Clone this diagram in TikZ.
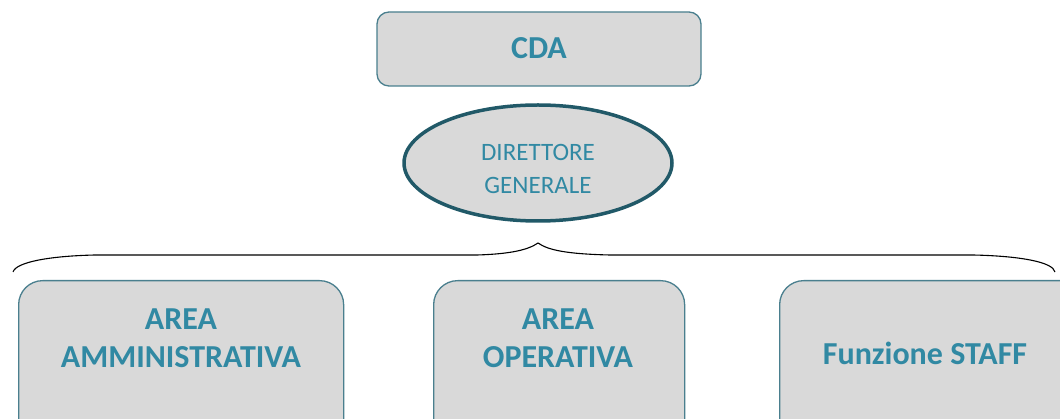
\documentclass[tikz,border=0pt]{standalone}
\usepackage{fontspec}
\setmainfont{Carlito}
\usetikzlibrary{shapes.geometric}
\definecolor{boxfill}{HTML}{D9D9D9}
\definecolor{boxline}{HTML}{4A7F8E}
\definecolor{ellline}{HTML}{215968}
\definecolor{txt}{HTML}{3189A3}
\tikzset{
  box/.style={draw=boxline, line width=1.3pt, fill=boxfill, rounded corners=24pt, inner sep=0pt},
  topbox/.style={draw=boxline, line width=1.3pt, fill=boxfill, rounded corners=12pt, inner sep=0pt},
  lbl/.style={text=txt, font=\fontsize{32}{38}\selectfont\bfseries, align=center, inner sep=0pt},
  ell/.style={ellipse, draw=ellline, line width=3.5pt, fill=boxfill, inner sep=0pt},
  elbl/.style={text=txt, font=\fontsize{25}{33}\selectfont, align=center, inner sep=0pt},
  brace/.style={draw=black, line width=1.1pt}
}
\begin{document}
\begin{tikzpicture}[x=1pt,y=-1pt]
\useasboundingbox (0,0) rectangle (1060,419);
\clip (0,0) rectangle (1060,419);
\node[topbox, minimum width=324pt, minimum height=74pt] (cda) at (539,49) {};
\node[lbl] (cdat) at (539,48) {CDA};
\node[ell, minimum width=268pt, minimum height=116pt] (dg) at (538,163) {};
\node[elbl] (dgt) at (538,169) {DIRETTORE\\GENERALE};
\draw[brace] (13,272) .. controls (16,262) and (50,256) .. (95,255) -- (477,255)
  .. controls (510,254) and (528,250) .. (538,243)
  .. controls (548,250) and (566,254) .. (610,255) -- (973,255)
  .. controls (1020,256) and (1053,262) .. (1055,272);
\node[box, minimum width=325pt, minimum height=180pt, anchor=north west] (a1) at (18,280) {};
\node[lbl] (a1t) at (181,338) {AREA\\AMMINISTRATIVA};
\node[box, minimum width=251pt, minimum height=180pt, anchor=north west] (a2) at (433,280) {};
\node[lbl] (a2t) at (558,338) {AREA\\OPERATIVA};
\node[box, minimum width=320pt, minimum height=180pt, anchor=north west] (a3) at (779,280) {};
\node[lbl] (a3t) at (925,353) {Funzione STAFF};
\end{tikzpicture}
\end{document}
